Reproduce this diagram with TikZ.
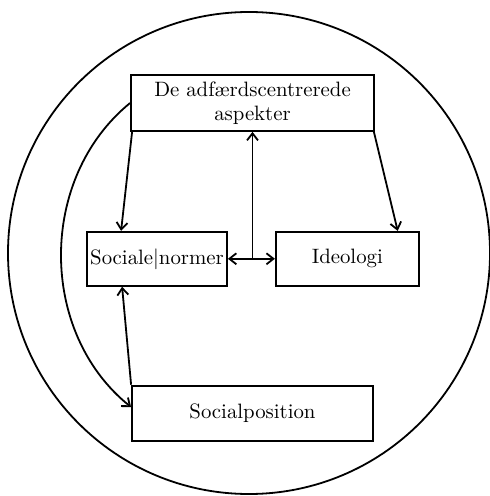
\documentclass[tikz,border=0pt]{standalone}
\usetikzlibrary{positioning,arrows.meta}

\begin{document}
\begin{tikzpicture}[x=0.5pt,y=-0.5pt,
    box/.style={draw, line width=0.9pt, inner sep=0pt, align=center,
      font=\fontsize{10.4}{12}\selectfont},
    tip/.tip={Straight Barb[length=3.5pt,width=5.5pt]},
    link/.style={line width=0.9pt, -tip}]
  \useasboundingbox (0,0) rectangle (490,496);
  \draw[line width=0.9pt] (249,253) circle[radius=120.5pt];
  % boxes
  \node[box, minimum width=121.5pt, minimum height=28pt] (adf) at (252.5,103)
    {De adfærdscentrerede\\aspekter};
  \node[box, minimum width=70pt, minimum height=27pt,
    below=49.5pt of adf.south west, anchor=north west, xshift=-22pt] (normer)
    {Sociale\textbar normer};
  \node[box, minimum width=71.5pt, minimum height=27pt, right=23.5pt of normer] (ideo)
    {Ideologi};
  \node[box, minimum width=120.5pt, minimum height=27.5pt,
    below=49pt of normer.south west, anchor=north west, xshift=22.5pt] (pos)
    {Socialposition};
  \coordinate (mid) at (adf.south |- normer.east);
  % connectors
  \draw[link] ([xshift=1pt]adf.south west) -- ([xshift=17.5pt]normer.north west);
  \draw[link] ([xshift=-0.5pt]adf.south east) -- ([xshift=-11pt]ideo.north east);
  \draw[link] (mid) -- (adf.south);
  \draw[link, tip-tip] (normer.east) -- (ideo.west);
  \draw[link] (pos.north west) -- ([xshift=18pt]normer.south west);
  \draw[link] (adf.west) to[bend right=51] ([yshift=3pt]pos.west);
\end{tikzpicture}
\end{document}
